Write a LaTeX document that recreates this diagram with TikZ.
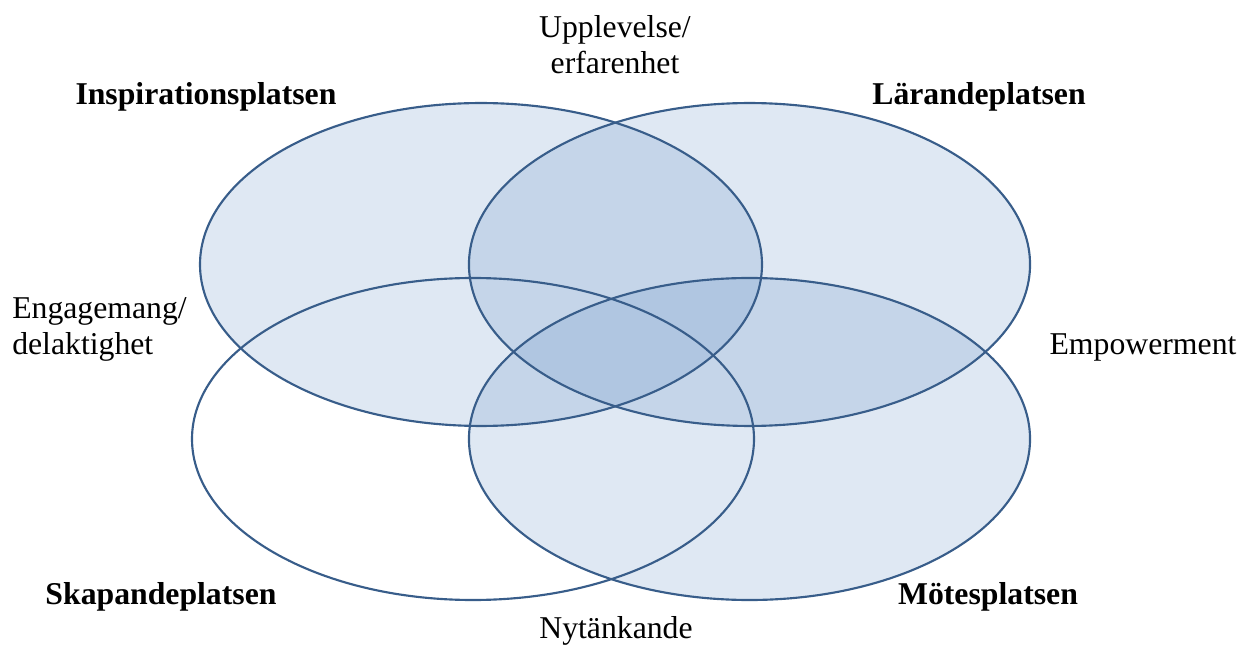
\documentclass[tikz,border=0pt]{standalone}
\usepackage{fontspec}
\setmainfont{Liberation Serif}
\definecolor{vfill}{RGB}{79,129,189}
\definecolor{vline}{RGB}{56,93,138}
\begin{document}
\begin{tikzpicture}[x=0.75pt,y=-0.75pt,
  lbl/.style={inner sep=0pt,align=center,font=\fontsize{23.8}{27}\selectfont},
  blbl/.style={lbl,font=\fontsize{23.8}{27}\selectfont\bfseries},
  venn/.style={draw=vline,line width=1.6pt}]
\useasboundingbox (0,0) rectangle (1243,645);
% fills
\fill[vfill,fill opacity=0.18] (481,264.5) ellipse [x radius=210.75pt,y radius=121.1pt];
\fill[vfill,fill opacity=0.18] (749.5,264.5) ellipse [x radius=210.4pt,y radius=121.1pt];
\fill[vfill,fill opacity=0.18] (749.5,439) ellipse [x radius=210.4pt,y radius=120.75pt];
% outlines
\draw[venn] (481,264.5) ellipse [x radius=210.75pt,y radius=121.1pt];
\draw[venn] (749.5,264.5) ellipse [x radius=210.4pt,y radius=121.1pt];
\draw[venn] (473,439) ellipse [x radius=210.75pt,y radius=120.75pt];
\draw[venn] (749.5,439) ellipse [x radius=210.4pt,y radius=120.75pt];
% labels
\node[lbl] (upp) at (615,45) {Upplevelse/\\erfarenhet};
\node[blbl] (insp) at (206,97) {Inspirationsplatsen};
\node[blbl] (lar) at (979,97) {Lärandeplatsen};
\node[lbl,align=left,anchor=west] (eng) at (12,329) {Engagemang/\\delaktighet};
\node[lbl] (emp) at (1143,347) {Empowerment};
\node[blbl] (skap) at (161,597) {Skapandeplatsen};
\node[blbl] (mot) at (988,597) {Mötesplatsen};
\node[lbl] (nyt) at (616,631) {Nytänkande};
\end{tikzpicture}
\end{document}
